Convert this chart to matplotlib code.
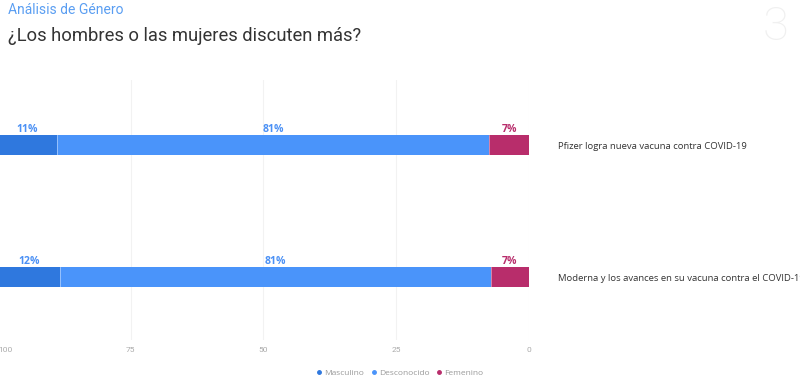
import matplotlib.pyplot as plt
import matplotlib.transforms as mtransforms
from matplotlib.lines import Line2D

# data
categories = ["Pfizer logra nueva vacuna contra COVID-19",
              "Moderna y los avances en su vacuna contra el COVID-19"]
series = ["Masculino", "Desconocido", "Femenino"]
masculino = [11.1, 11.7]
desconocido = [81.5, 81.2]
femenino = [7.4, 7.1]
labels_masc = ["11%", "12%"]
labels_desc = ["81%", "81%"]
labels_fem = ["7%", "7%"]
ticks = [100, 75, 50, 25, 0]

# colors
c_masc = "#2F78DE"
c_desc = "#4A94FA"
c_fem = "#B82D6B"
c_lbl_blue = "#4A90F5"

fig = plt.figure(figsize=(8, 3.8), dpi=100)
ax = fig.add_axes([-0.0025, 0.105, 0.6634, 0.684])

ypos = [0, 1]
h = 0.152

# stacked from 0 on the right (axis reversed)
left_fem = [0, 0]
left_desc = femenino
left_masc = [f + d for f, d in zip(femenino, desconocido)]

ax.barh(ypos, femenino, left=left_fem, height=h, color=c_fem, label="Femenino", zorder=3)
ax.barh(ypos, desconocido, left=left_desc, height=h, color=c_desc, label="Desconocido", zorder=3)
ax.barh(ypos, masculino, left=left_masc, height=h, color=c_masc, label="Masculino", zorder=3)

# thin white separators between segments
for i in range(len(ypos)):
    for xv in [left_desc[i], left_masc[i]]:
        ax.plot([xv, xv], [ypos[i] - h / 2, ypos[i] + h / 2], color="white", lw=0.5, alpha=0.6, zorder=4)

# percent labels above each segment
for i in range(len(ypos)):
    segs = [(left_masc[i] + masculino[i] / 2, labels_masc[i], c_lbl_blue),
            (left_desc[i] + desconocido[i] / 2, labels_desc[i], c_lbl_blue),
            (femenino[i] / 2, labels_fem[i], c_fem)]
    for xc, txt, col in segs:
        ax.annotate(txt, (xc, ypos[i] - h / 2), xytext=(0, 0), textcoords="offset points",
                    ha="center", va="bottom", fontsize=7.6, fontweight="bold",
                    color=col, family="Open Sans")

# category names on the right
trans = mtransforms.blended_transform_factory(ax.transAxes, ax.transData)
for i, cat in enumerate(categories):
    ax.text(1.055, ypos[i] + 0.012, cat, transform=trans, ha="left", va="center",
            fontsize=6.8, color="#333333", family="Open Sans")

ax.set_xlim(100, 0)
ax.set_ylim(1.481, -0.494)
ax.set_xticks(ticks)
ax.set_xticklabels([str(t) for t in ticks])
ax.set_yticks([])
ax.tick_params(axis="x", length=0, pad=5, labelsize=6, labelcolor="#AAAAAA")
for lbl in ax.get_xticklabels():
    lbl.set_family("Roboto")
ax.get_xticklabels()[0].set_horizontalalignment("left")
ax.grid(axis="x", color="#F2F2F2", lw=0.8, zorder=0)
for s in ax.spines.values():
    s.set_visible(False)

# legend at the bottom
cols = {"Masculino": c_masc, "Desconocido": c_desc, "Femenino": c_fem}
hnd = [Line2D([], [], marker="o", ls="", color=cols[n], markersize=2.5) for n in series]
leg = fig.legend(hnd, series, loc="center", bbox_to_anchor=(0.499, 0.018), ncol=3,
                 frameon=False, handletextpad=0.1, columnspacing=0.7,
                 handlelength=1.0, prop={"family": "Open Sans", "size": 6})
for t in leg.get_texts():
    t.set_color("#999999")

# header
fig.text(0.01, 0.975, "Análisis de Género", fontsize=10, color="#5A9EF2",
         family="Roboto", ha="left", va="center")
fig.text(0.01, 0.905, "¿Los hombres o las mujeres discuten más?", fontsize=13.2,
         color="#333333", family="Roboto", ha="left", va="center")
fig.text(0.97, 0.93, "3", fontsize=34, color="#F0F0F0", family="Roboto",
         fontweight="light", ha="center", va="center")

fig.savefig("out.png", dpi=100)
